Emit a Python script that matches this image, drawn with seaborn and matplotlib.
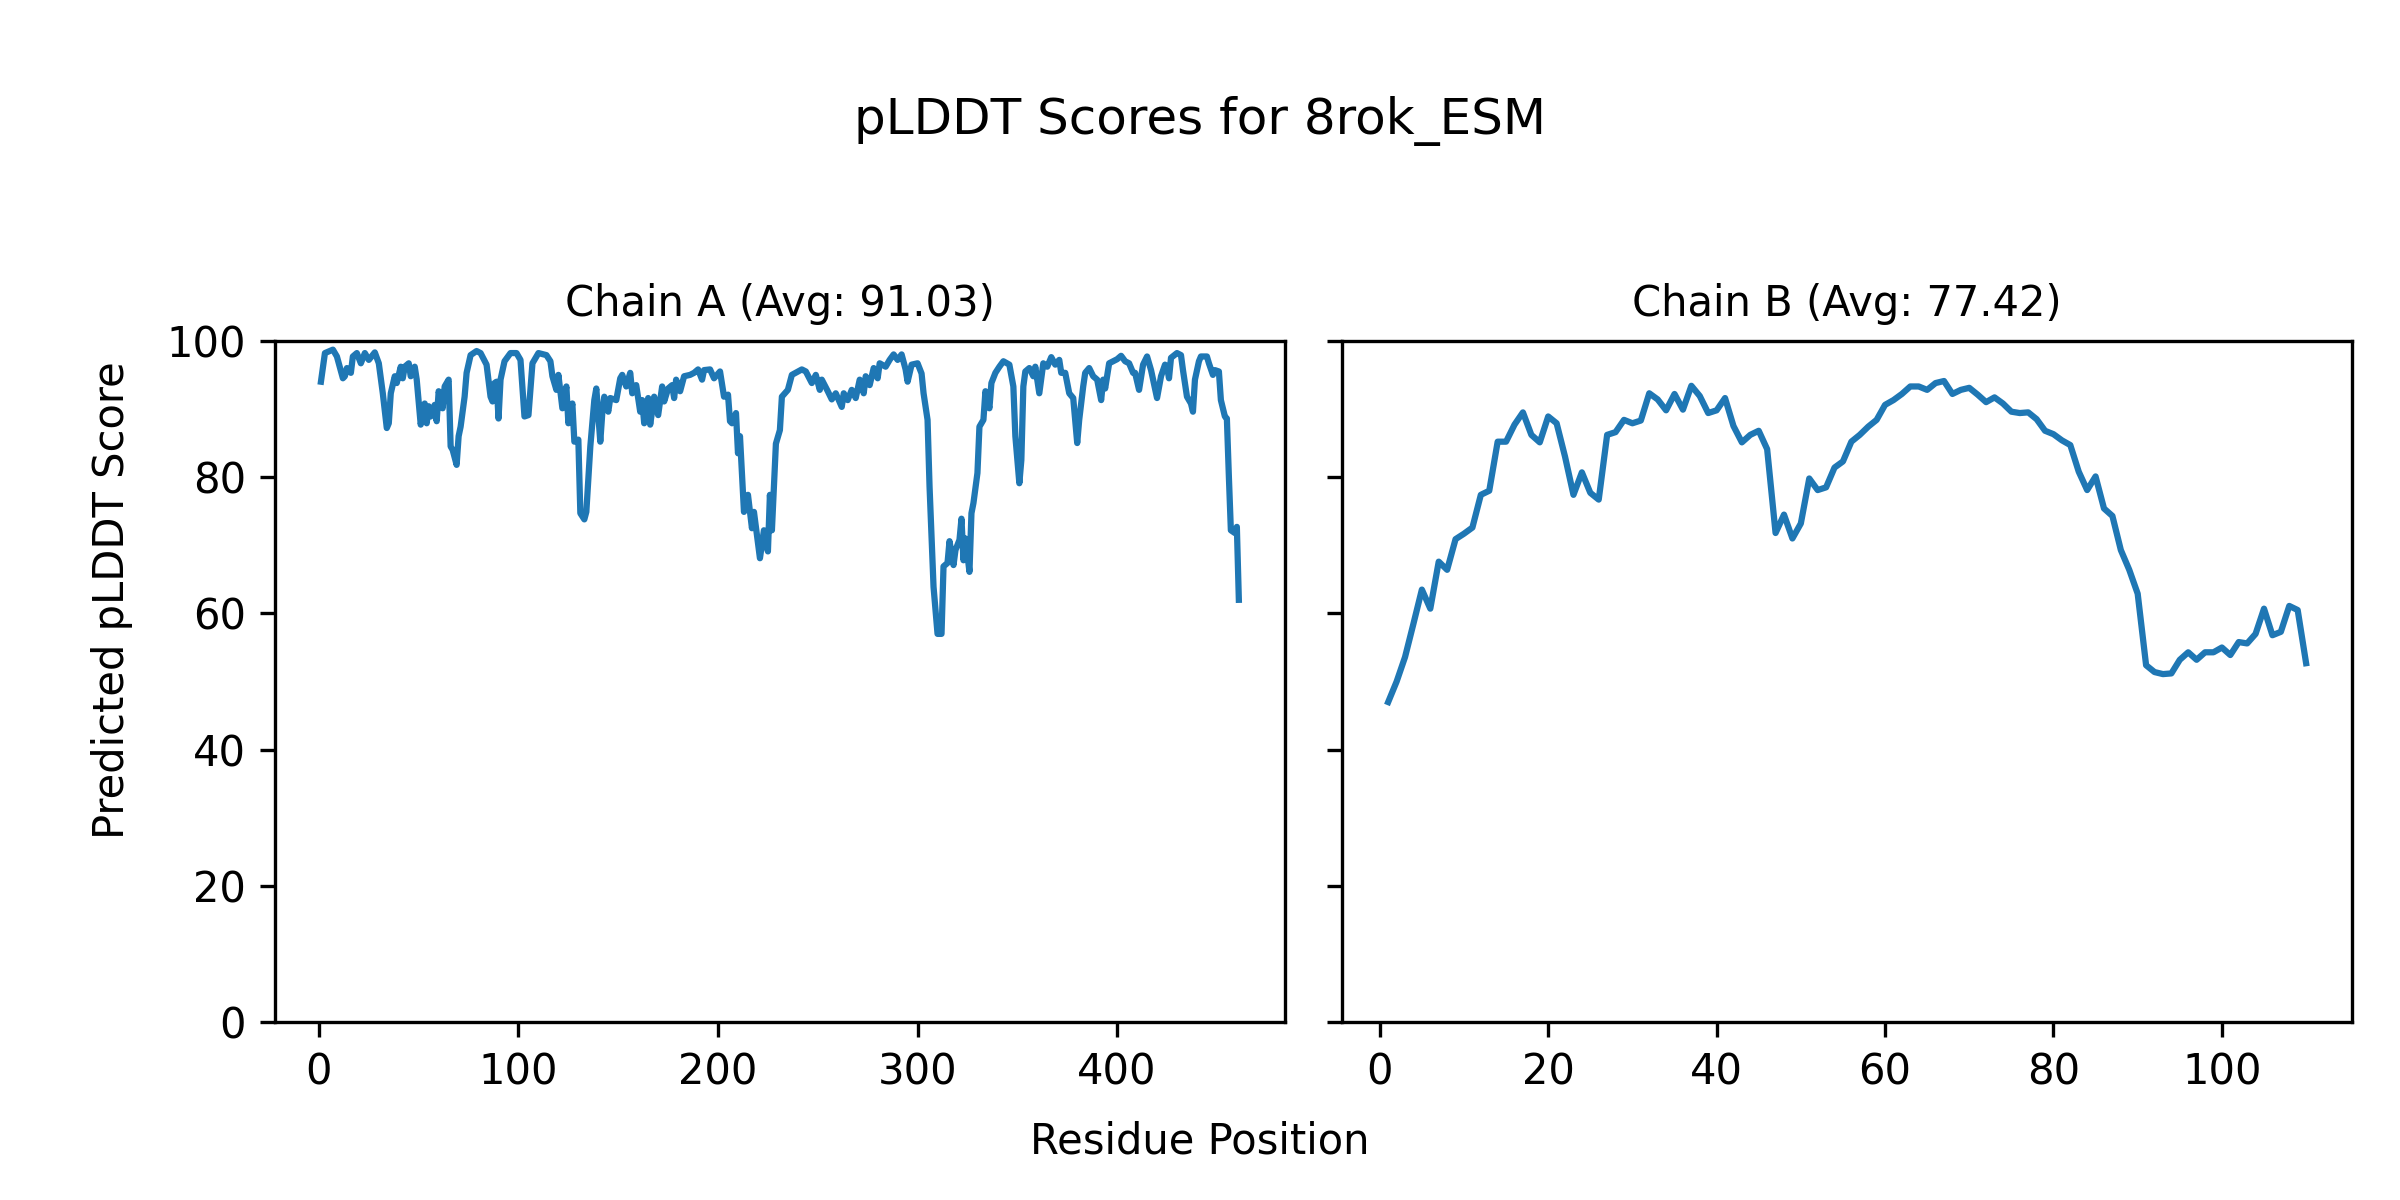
import pandas as pd
import matplotlib
matplotlib.use('Agg')
import matplotlib.pyplot as plt
import seaborn as sns

# pLDDT values (residue position, score)
chain_a_pos = [1, 3, 7, 9, 12, 13, 14, 16, 17, 19, 21, 23, 25, 28, 30, 32, 34, 35, 36, 38,
               39, 41, 42, 43, 45, 46, 48, 49, 51, 53, 54, 55, 56, 58, 59, 60, 62, 63, 65, 66,
               67, 69, 70, 71, 73, 74, 76, 79, 81, 84, 86, 87, 88, 89, 90, 91, 93, 96, 99, 101,
               103, 105, 107, 110, 114, 116, 117, 119, 120, 122, 124, 125, 127, 128, 130, 131, 133, 134, 136, 138,
               139, 141, 142, 143, 145, 146, 149, 151, 152, 154, 156, 157, 159, 161, 162, 163, 165, 166, 168, 170,
               172, 173, 175, 177, 178, 179, 181, 183, 186, 188, 190, 192, 193, 196, 198, 201, 203, 205, 206, 207,
               209, 210, 211, 213, 215, 217, 218, 221, 223, 225, 226, 227, 229, 231, 232, 235, 237, 242, 244, 247,
               249, 251, 252, 255, 257, 259, 262, 263, 265, 267, 269, 271, 273, 274, 276, 278, 280, 281, 284, 286,
               288, 290, 292, 294, 295, 297, 300, 302, 303, 305, 306, 308, 310, 312, 313, 315, 316, 318, 319, 321,
               322, 323, 324, 326, 327, 328, 330, 331, 333, 334, 336, 337, 339, 341, 343, 346, 348, 349, 351, 352,
               353, 354, 356, 358, 359, 361, 363, 365, 367, 369, 371, 372, 374, 376, 378, 380, 381, 383, 384, 386,
               388, 390, 392, 393, 394, 396, 398, 400, 402, 404, 406, 408, 409, 411, 413, 415, 417, 420, 422, 424,
               425, 426, 427, 430, 432, 433, 435, 437, 438, 439, 441, 442, 445, 446, 448, 449, 451, 452, 454, 455,
               456, 457, 459, 460, 461]
chain_a_score = [94.0, 98.2, 98.7, 97.7, 94.5, 94.8, 96.0, 95.3, 97.7, 98.2, 96.7, 98.2, 97.2, 98.3, 96.7, 92.3, 87.2, 87.9, 92.3, 94.8,
                 93.8, 96.2, 94.5, 96.2, 96.7, 94.8, 96.2, 94.3, 87.7, 90.8, 87.9, 90.4, 88.9, 90.6, 88.2, 92.6, 90.1, 93.3, 94.3, 84.5,
                 84.0, 81.8, 86.0, 87.4, 91.8, 95.3, 97.9, 98.5, 98.2, 96.5, 91.8, 91.1, 93.8, 94.0, 88.6, 94.3, 97.0, 98.2, 98.2, 97.2,
                 88.9, 89.1, 96.7, 98.2, 97.9, 97.0, 94.8, 92.8, 95.0, 90.1, 93.3, 87.9, 90.8, 85.2, 85.5, 74.7, 73.8, 74.9, 84.5, 91.3,
                 93.0, 85.2, 89.4, 91.8, 89.6, 91.6, 91.3, 94.5, 95.0, 93.3, 95.3, 92.3, 93.5, 89.6, 91.3, 87.9, 91.6, 87.7, 91.8, 89.1,
                 93.3, 91.1, 93.0, 93.5, 91.6, 94.3, 92.6, 94.8, 95.0, 95.3, 95.8, 94.3, 95.7, 95.8, 94.5, 95.5, 91.8, 92.1, 88.2, 87.9,
                 89.4, 83.5, 86.0, 74.9, 77.4, 72.5, 74.9, 68.1, 72.2, 69.1, 77.4, 72.2, 84.9, 86.9, 91.8, 92.8, 95.0, 95.8, 95.5, 93.8,
                 95.0, 92.8, 94.3, 92.6, 91.4, 92.3, 90.3, 92.3, 91.3, 92.8, 91.6, 94.3, 92.3, 94.8, 93.5, 96.0, 94.5, 96.7, 96.2, 97.2,
                 98.0, 97.2, 98.0, 95.8, 94.0, 96.5, 96.7, 95.2, 92.3, 88.4, 78.6, 63.9, 57.0, 57.0, 66.9, 67.4, 70.6, 67.1, 69.3, 70.8,
                 73.9, 67.8, 71.0, 66.1, 74.7, 76.2, 80.6, 87.4, 88.4, 92.6, 90.1, 93.8, 95.3, 96.2, 97.0, 96.5, 93.3, 86.0, 79.1, 82.5,
                 93.3, 95.5, 96.0, 94.8, 96.2, 92.3, 96.7, 96.2, 97.6, 96.5, 97.2, 95.3, 95.3, 92.3, 91.6, 85.0, 88.4, 93.3, 95.3, 96.0,
                 94.8, 94.3, 91.3, 94.3, 93.0, 96.7, 97.0, 97.3, 97.8, 97.0, 96.7, 95.3, 95.3, 92.8, 96.5, 97.7, 95.7, 91.6, 94.8, 96.5,
                 96.2, 94.5, 97.5, 98.2, 97.9, 95.7, 91.8, 90.8, 89.6, 94.3, 97.0, 97.7, 97.7, 96.7, 95.0, 95.7, 95.5, 91.3, 88.9, 88.6,
                 80.1, 72.2, 71.8, 72.7, 62.0]

chain_b_pos = list(range(1, 111))
chain_b_score = [47.0, 50.0, 53.6, 58.5, 63.5, 60.7, 67.6, 66.4, 70.9, 71.7,
                 72.6, 77.4, 78.0, 85.2, 85.2, 87.7, 89.5, 86.2, 85.1, 88.9,
                 87.9, 83.0, 77.4, 80.7, 77.7, 76.7, 86.2, 86.6, 88.4, 87.9,
                 88.3, 92.3, 91.4, 89.8, 92.2, 89.9, 93.4, 91.9, 89.4, 89.8,
                 91.6, 87.5, 85.1, 86.2, 86.8, 84.1, 71.8, 74.5, 71.0, 73.2,
                 79.8, 78.1, 78.5, 81.4, 82.3, 85.2, 86.2, 87.4, 88.4, 90.6,
                 91.3, 92.2, 93.3, 93.3, 92.8, 93.8, 94.1, 92.2, 92.8, 93.1,
                 92.1, 91.0, 91.7, 90.8, 89.6, 89.4, 89.5, 88.5, 86.8, 86.3,
                 85.4, 84.7, 80.8, 78.1, 80.1, 75.4, 74.3, 69.3, 66.4, 62.9,
                 52.4, 51.4, 51.1, 51.2, 53.2, 54.3, 53.2, 54.3, 54.3, 55.0,
                 53.9, 55.8, 55.6, 57.0, 60.7, 56.8, 57.3, 61.1, 60.5, 52.7]

chain_titles = ['Chain A (Avg: 91.03)', 'Chain B (Avg: 77.42)']

df_a = pd.DataFrame({'pos': chain_a_pos, 'score': chain_a_score})
df_b = pd.DataFrame({'pos': chain_b_pos, 'score': chain_b_score})

fig, axes = plt.subplots(1, 2, figsize=(8, 4), sharey=True)

for ax, df, title in zip(axes, [df_a, df_b], chain_titles):
    sns.lineplot(data=df, x='pos', y='score', ax=ax, color='#1f77b4', linewidth=1.5)
    ax.set_title(title, fontsize=10)
    ax.set_xlabel('')
    ax.set_ylabel('')
    ax.set_ylim(0, 100)

fig.suptitle('pLDDT Scores for 8rok_ESM', fontsize=12, y=0.92)
fig.supxlabel('Residue Position', fontsize=10, y=0.031)
fig.supylabel('Predicted pLDDT Score', fontsize=10, x=0.038)

plt.subplots_adjust(left=0.1146, right=0.98, bottom=0.148, top=0.716, wspace=0.057)
plt.savefig('out.png', dpi=300)
plt.close()
